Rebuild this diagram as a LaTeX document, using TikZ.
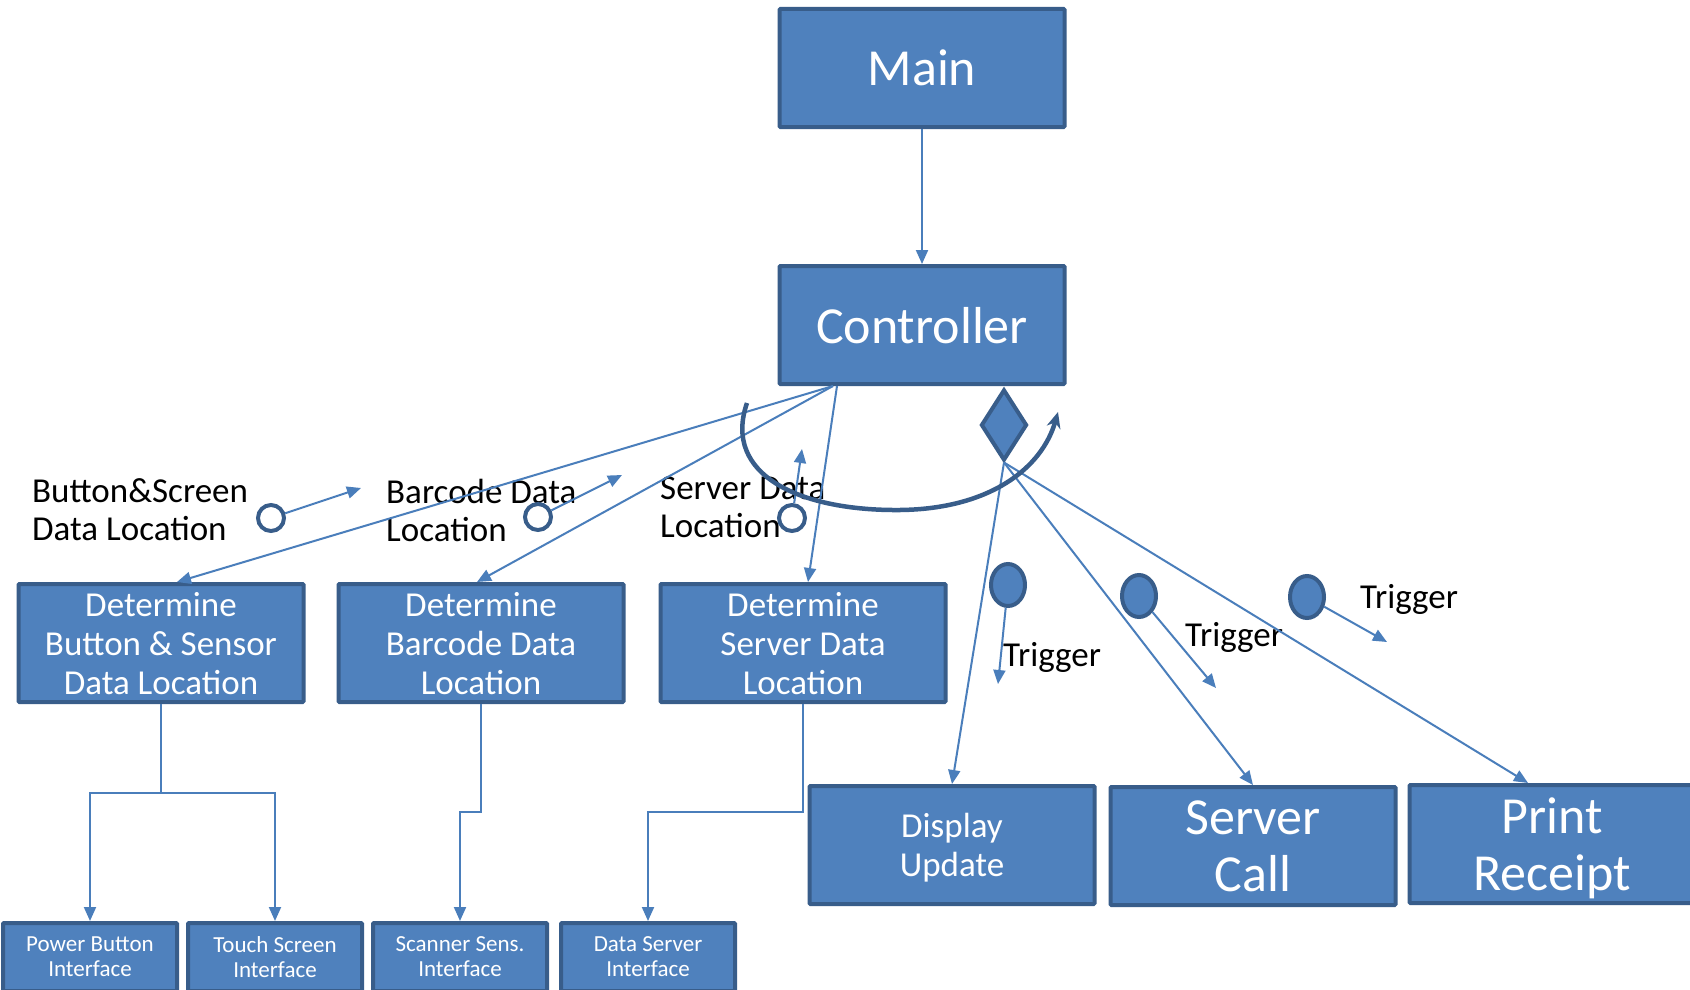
\documentclass[tikz,border=0pt]{standalone}
\usepackage{fontspec}
\setmainfont{Carlito}
\usetikzlibrary{shapes.geometric,arrows.meta}
\definecolor{boxfill}{HTML}{4F81BD}
\definecolor{boxline}{HTML}{385D8A}
\definecolor{linkblue}{HTML}{4A7EBB}

\begin{document}
\begin{tikzpicture}[x=1pt,y=-1pt]
    \tikzstyle{box}=[rectangle, draw=boxline, fill=boxfill, line width=4pt, rounded corners=1pt,
        text=white, align=center, inner sep=0pt, minimum width=285pt, minimum height=118pt,
        text depth=0pt, font=\fontsize{35}{39}\selectfont]
    \tikzstyle{big box}=[box, font=\fontsize{52}{57}\selectfont]
    \tikzstyle{small box}=[box, minimum width=174pt, minimum height=68pt, font=\fontsize{23}{25}\selectfont]
    \tikzstyle{link}=[draw=linkblue, line width=2pt, -{Triangle[length=14pt,width=12pt]}]
    \tikzstyle{port}=[circle, draw=boxline, line width=4pt, fill=white, minimum size=26pt, inner sep=0pt]
    \tikzstyle{trigger}=[ellipse, draw=boxline, line width=4pt, fill=boxfill, minimum width=34pt,
        minimum height=42pt, inner sep=0pt]
    \tikzstyle{note}=[anchor=west, align=left, inner sep=0pt, font=\fontsize{35}{38}\selectfont]
    \clip (0,0) rectangle (1690,990);
    \fill[white] (0,0) rectangle (1690,990);
    % top of the hierarchy
    \node[big box] (main) at (922,68) {Main};
    \node[big box] (ctrl) at (922,325) {Controller};
    \node[diamond, draw=boxline, fill=boxfill, line width=4pt, minimum width=46pt,
        minimum height=71pt, inner sep=0pt] (agg) at (1004,425) {};
    % second level
    \node[box] (det1) at (161,643) {Determine\\Button \& Sensor\\Data Location};
    \node[box] (det2) at (481,643) {Determine\\Barcode Data\\Location};
    \node[box] (det3) at (803,643) {Determine\\Server Data\\Location};
    \node[box] (disp) at (952,845) {Display\\Update};
    \node[big box] (call) at (1253,846) {Server\\Call};
    \node[big box] (print) at (1552,844) {Print\\Receipt};
    % interfaces
    \node[small box] (power) at (90,957) {Power Button\\Interface};
    \node[small box] (touch) at (275,957) {Touch Screen\\Interface};
    \node[small box] (scan) at (460,957) {Scanner Sens.\\Interface};
    \node[small box] (dsrv) at (648,957) {Data Server\\Interface};
    % data couples
    \node[note] (n1) at (32,510) {Button\&Screen\\Data Location};
    \node[note] (n2) at (386,510) {Barcode Data\\Location};
    \node[note] (n3) at (660,507) {Server Data\\Location};
    \node[port] (p1) at (271,518) {};
    \node[port] (p2) at (538,517) {};
    \node[port] (p3) at (792,518) {};
    \coordinate (p1end) at (361,488);
    \coordinate (p2end) at (622,475);
    \coordinate (p3end) at (802,449);
    % control flags
    \node[trigger] (f1) at (1008,585) {};
    \node[trigger] (f2) at (1139,596) {};
    \node[trigger] (f3) at (1307,597) {};
    \coordinate (f1end) at (998,684);
    \coordinate (f2end) at (1216,688);
    \coordinate (f3end) at (1387,642);
    \node[note, anchor=base west] (t1) at (1003,666) {Trigger};
    \node[note, anchor=base west] (t2) at (1185,646) {Trigger};
    \node[note, anchor=base west] (t3) at (1360,608) {Trigger};
    % calls
    \draw[link] (main.south) -- (ctrl.north);
    \draw[link] ([xshift=-89pt]ctrl.south) -- ([xshift=16pt]det1.north);
    \draw[link] ([xshift=-89pt]ctrl.south) -- ([xshift=-4pt]det2.north);
    \draw[link] ([xshift=-85pt]ctrl.south) -- ([xshift=5pt]det3.north);
    \draw[link] (agg.south) -- (disp.north);
    \draw[link] (agg.south) -- (call.north);
    \draw[link] (agg.south) -- ([xshift=-24pt]print.north);
    \draw[link] (det1.south) -- ++(0,89) -| (power.north);
    \draw[link] (det1.south) -- ++(0,89) -| (touch.north);
    \draw[link] (det2.south) -- ++(0,108) -| (scan.north);
    \draw[link] (det3.south) -- ++(0,108) -| (dsrv.north);
    \draw[link] (p1) -- (p1end);
    \draw[link] (p2) -- (p2end);
    \draw[link] (p3) -- (p3end);
    \draw[link] (f1) -- (f1end);
    \draw[link] (f2) -- (f2end);
    \draw[link] (f3) -- (f3end);
    % loop
    \draw[boxline, line width=4.5pt, -{Stealth[length=16pt,width=14pt]}]
        (747,403) .. controls (722,475) and (800,511) .. (900,510)
        .. controls (990,509) and (1042,468) .. (1058,412);
\end{tikzpicture}
\end{document}
